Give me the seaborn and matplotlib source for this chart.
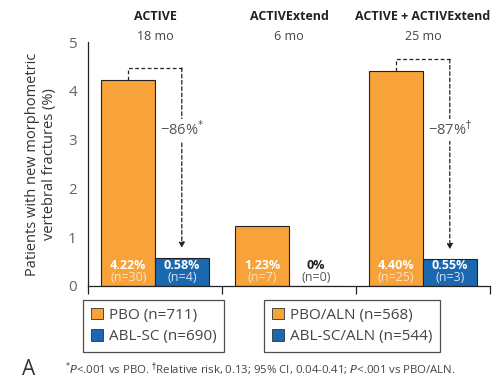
import pandas as pd
import matplotlib.pyplot as plt
import seaborn as sns
from matplotlib.patches import Patch

# Datos
grupos = ["ACTIVE", "ACTIVExtend", "ACTIVE + ACTIVExtend"]
duracion = ["18 mo", "6 mo", "25 mo"]
brazos = ["Control", "Tratamiento"]
pbo = [4.22, 1.23, 4.40]
abl = [0.58, 0.0, 0.55]
n_pbo = [30, 7, 25]
n_abl = [4, 0, 3]
reduccion = {0: ("\u221286%", r"$^{*}$"), 2: ("\u221287%", r"$^{\dagger}$")}
leyenda_1 = ["PBO (n=711)", "ABL-SC (n=690)"]
leyenda_2 = ["PBO/ALN (n=568)", "ABL-SC/ALN (n=544)"]

naranja = "#F8A23A"
azul = "#1A68B0"

df = pd.DataFrame({
    "Grupo": grupos * 2,
    "Brazo": [brazos[0]] * 3 + [brazos[1]] * 3,
    "Valor": pbo + abl,
})

sns.set_style("white")
plt.rcParams["font.family"] = ["Open Sans", "DejaVu Sans"]

fig = plt.figure(figsize=(5, 3.87), dpi=100)
ax = fig.add_axes([0.176, 0.261, 0.804, 0.630])

sns.barplot(data=df, x="Grupo", y="Valor", hue="Brazo", order=grupos,
            hue_order=brazos, palette=[naranja, azul], saturation=1, width=0.8,
            edgecolor="#222222", linewidth=0.8, legend=False, ax=ax)

ax.set_ylim(0, 5)
ax.set_xlim(-0.5, 2.5)
ax.set_yticks(range(6))
ax.set_xticks([-0.5, 0.5, 1.5, 2.5])
ax.set_xticklabels([])
ax.tick_params(axis="both", direction="out", length=6, width=0.9, color="#222222")
ax.tick_params(axis="y", labelsize=11, labelcolor="#666666", pad=2)
ax.tick_params(axis="x", bottom=True)
for lado in ["top", "right"]:
    ax.spines[lado].set_visible(False)
for lado in ["left", "bottom"]:
    ax.spines[lado].set_color("#222222")
    ax.spines[lado].set_linewidth(0.9)

ax.set_xlabel("")
ax.set_ylabel("Patients with new morphometric\nvertebral fractures (%)",
              fontsize=10.5, color="#333333", labelpad=8, linespacing=1.15)

# Etiquetas dentro de las barras
for i in range(3):
    for x, v, n, pos in [(i - 0.2, pbo[i], n_pbo[i], 0), (i + 0.2, abl[i], n_abl[i], 1)]:
        col_a = "white" if v > 0 else "#222222"
        col_b = "#fde3c4" if (v > 0 and pos == 0) else ("#d6e4f3" if v > 0 else "#555555")
        ax.text(x, 0.42, f"{v:.2f}%" if v > 0 else "0%", ha="center", va="center",
                fontsize=9, fontweight="bold", color=col_a)
        ax.text(x, 0.17, f"(n={n})", ha="center", va="center", fontsize=9, color=col_b)

# Encabezados
for i in range(3):
    ax.text(i, 5.53, grupos[i], ha="center", va="center", fontsize=9,
            fontweight="bold", color="#222222", clip_on=False)
    ax.text(i, 5.12, duracion[i], ha="center", va="center", fontsize=9,
            color="#444444", clip_on=False)

# Corchetes de reduccion
for i, (txt, sup) in reduccion.items():
    top = pbo[i] + 0.25
    xa, xb = i - 0.2, i + 0.2
    ax.plot([xa, xa, xb], [pbo[i], top, top], ls=(0, (3, 2)), color="#222222", lw=0.9)
    ax.annotate("", xy=(xb, abl[i] + 0.2), xytext=(xb, top),
                arrowprops=dict(arrowstyle="-|>", ls=(0, (3, 2)), color="#222222",
                                lw=0.9, mutation_scale=8, shrinkA=0, shrinkB=0))
    ax.text(xb, 3.2, txt + sup, ha="center", va="center", fontsize=10.5,
            color="#555555", bbox=dict(facecolor="white", edgecolor="none", pad=1))

# Leyendas
h = [Patch(facecolor=naranja, edgecolor="#333333", lw=0.6),
     Patch(facecolor=azul, edgecolor="#333333", lw=0.6)]
kw = dict(loc="upper left", fontsize=11, frameon=True, fancybox=False,
          edgecolor="#222222", handlelength=0.8, handleheight=0.8,
          handletextpad=0.4, labelspacing=0.4, borderpad=0.5,
          borderaxespad=0, labelcolor="#444444")
l1 = fig.legend(h, leyenda_1, bbox_to_anchor=(0.166, 0.225), **kw)
l1.get_frame().set_linewidth(0.9)
l2 = fig.legend(h, leyenda_2, bbox_to_anchor=(0.528, 0.225), **kw)
l2.get_frame().set_linewidth(0.9)

fig.text(0.045, 0.045, "A", fontsize=15, color="#333333", va="center")
fig.text(0.13, 0.045,
         r"$^{*}$$\it{P}$<.001 vs PBO. $^{\dagger}$Relative risk, 0.13; 95% CI, 0.04-0.41; $\it{P}$<.001 vs PBO/ALN.",
         fontsize=8.2, color="#444444", va="center")

fig.savefig("out.png", dpi=100)
